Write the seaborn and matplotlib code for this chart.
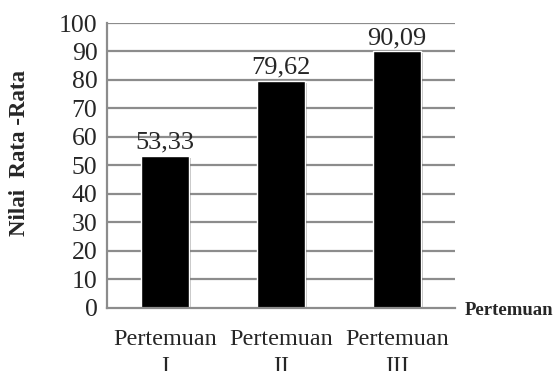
import matplotlib
matplotlib.use('Agg')
import matplotlib.pyplot as plt
import matplotlib.patheffects as pe
import seaborn as sns

# data
categories = ['Pertemuan\nI', 'Pertemuan\nII', 'Pertemuan\nIII']
values = [53.33, 79.62, 90.09]
value_labels = ['53,33', '79,62', '90,09']
yticks = [0, 10, 20, 30, 40, 50, 60, 70, 80, 90, 100]

sns.set_style('white')
plt.rcParams['font.family'] = ['Liberation Serif', 'DejaVu Serif']

fig = plt.figure(figsize=(5.55, 3.71), dpi=100)
ax = fig.add_axes([0.193, 0.170, 0.627, 0.768])

grid_col = '#8c8c8c'
for t in yticks[1:]:
    ax.axhline(t, color=grid_col, lw=1.6, zorder=0)

sns.barplot(x=categories, y=values, color='black', width=0.41, ax=ax,
            saturation=1, zorder=2)
for p in ax.patches:
    p.set_path_effects([pe.SimplePatchShadow(offset=(1.5, -1.5), alpha=0.25), pe.Normal()])

for i, (v, lab) in enumerate(zip(values, value_labels)):
    ax.text(i, v + 0.8, lab, ha='center', va='bottom', fontsize=19, zorder=3)

ax.set_ylim(0, 100)
ax.set_xlim(-0.5, 2.5)
ax.set_yticks(yticks)
ax.tick_params(axis='y', labelsize=18.5, length=5, width=1.6, color=grid_col, pad=2)
ax.tick_params(axis='x', labelsize=17.4, length=0, pad=15)
for lbl in ax.get_xticklabels():
    lbl.set_linespacing(1.4)

sns.despine(ax=ax, top=True, right=True)
ax.spines['left'].set_color(grid_col)
ax.spines['left'].set_linewidth(1.6)
ax.spines['bottom'].set_color(grid_col)
ax.spines['bottom'].set_linewidth(1.6)

ax.set_ylabel('Nilai  Rata -Rata', fontsize=16.5, fontweight='bold')
ax.yaxis.set_label_coords(-0.222, 0.545)
ax.set_xlabel('')
fig.text(0.997, 0.164, 'Pertemuan', ha='right', va='center', fontsize=13.5, fontweight='bold')

fig.savefig('out.png', dpi=100)
